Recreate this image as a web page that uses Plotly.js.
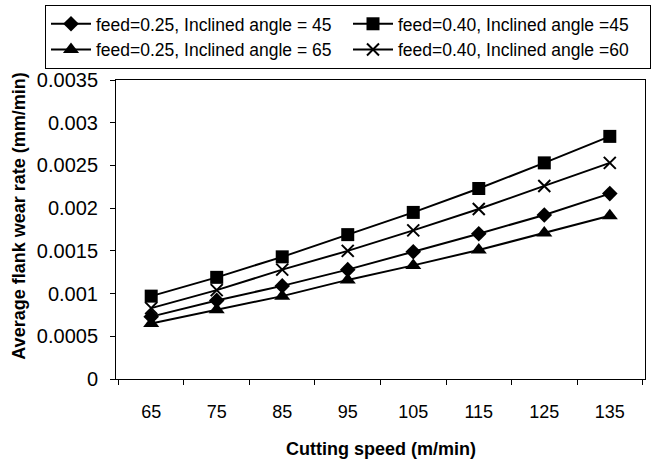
<!DOCTYPE html>
<html>
<head>
<meta charset="utf-8">
<script src="https://cdn.plot.ly/plotly-3.0.1.min.js"></script>
<style>html,body{margin:0;padding:0;background:#fff;}#chart{width:651px;height:461px;}</style>
</head>
<body>
<div id="chart"></div>
<script>
var speeds = ["65", "75", "85", "95", "105", "115", "125", "135"];
var feed025_angle45 = [0.00073, 0.00092, 0.00109, 0.00128, 0.00149, 0.00170, 0.00192, 0.00217];
var feed040_angle45 = [0.00097, 0.00119, 0.00143, 0.00169, 0.00195, 0.00223, 0.00253, 0.00284];
var feed025_angle65 = [0.00065, 0.00081, 0.00097, 0.00116, 0.00133, 0.00151, 0.00171, 0.00191];
var feed040_angle60 = [0.00083, 0.00104, 0.00128, 0.00150, 0.00174, 0.00199, 0.00226, 0.00253];
var seriesNames = ["feed=0.25, Inclined angle = 45", "feed=0.40, Inclined angle =45",
                   "feed=0.25, Inclined angle = 65", "feed=0.40, Inclined angle =60"];
var yTicks = [0, 0.0005, 0.001, 0.0015, 0.002, 0.0025, 0.003, 0.0035];
var yTickText = ["0", "0.0005", "0.001", "0.0015", "0.002", "0.0025", "0.003", "0.0035"];
var xTitle = "Cutting speed (m/min)";
var yTitle = "Average flank wear rate (mm/min)";

var FONT = "Liberation Sans, Arial, sans-serif";

function tr(y, name, sym, size, extra) {
  var m = {symbol: sym, size: size, color: "#000"};
  if (extra) m.line = extra;
  return {x: speeds, y: y, name: name, type: "scatter", mode: "lines+markers",
          line: {color: "#000", width: 2}, marker: m};
}
var data = [
  tr(feed025_angle45, seriesNames[0], "diamond", 12),
  tr(feed040_angle45, seriesNames[1], "square", 13),
  tr(feed025_angle65, seriesNames[2], "triangle-up", 14),
  tr(feed040_angle60, seriesNames[3], "x-thin-open", 12, {color: "#000", width: 2})
];

var layout = {
  width: 651, height: 461,
  margin: {l: 116, r: 6, t: 79, b: 82},
  paper_bgcolor: "#fff", plot_bgcolor: "#fff",
  font: {family: FONT, color: "#000"},
  showlegend: true,
  legend: {
    orientation: "h", x: -0.128, xanchor: "left", y: 1.247, yanchor: "top",
    bordercolor: "#000", borderwidth: 1, bgcolor: "#fff",
    font: {family: FONT, size: 17.5, color: "#000"},
    itemwidth: 40,
    entrywidth: 247, entrywidthmode: "pixels", tracegroupgap: 0
  },
  xaxis: {
    type: "category", showline: true, linecolor: "#000", linewidth: 1, mirror: true,
    ticks: "outside", ticklen: 5, tickcolor: "#000", tickson: "boundaries",
    showgrid: false, zeroline: false, ticklabelstandoff: 16,
    tickfont: {family: FONT, size: 18, color: "#000"}
  },
  yaxis: {
    range: [0, 0.0035], tickvals: yTicks, ticktext: yTickText,
    showline: true, linecolor: "#000", linewidth: 1, mirror: true,
    ticks: "outside", ticklen: 5, tickcolor: "#000",
    showgrid: false, zeroline: false, ticklabelstandoff: 8,
    tickfont: {family: FONT, size: 20, color: "#000"}
  },
  annotations: [
    {text: xTitle, xref: "paper", yref: "paper", x: 0.5, y: -0.233,
     xanchor: "center", yanchor: "middle", showarrow: false,
     font: {family: FONT, size: 18, weight: "bold", color: "#000"}},
    {text: yTitle, xref: "paper", yref: "paper", x: -0.184, y: 0.545,
     xanchor: "center", yanchor: "middle", showarrow: false, textangle: -90,
     font: {family: FONT, size: 18, weight: "bold", color: "#000"}}
  ]
};
Plotly.newPlot("chart", data, layout, {displayModeBar: false, staticPlot: true});
</script>
</body>
</html>
